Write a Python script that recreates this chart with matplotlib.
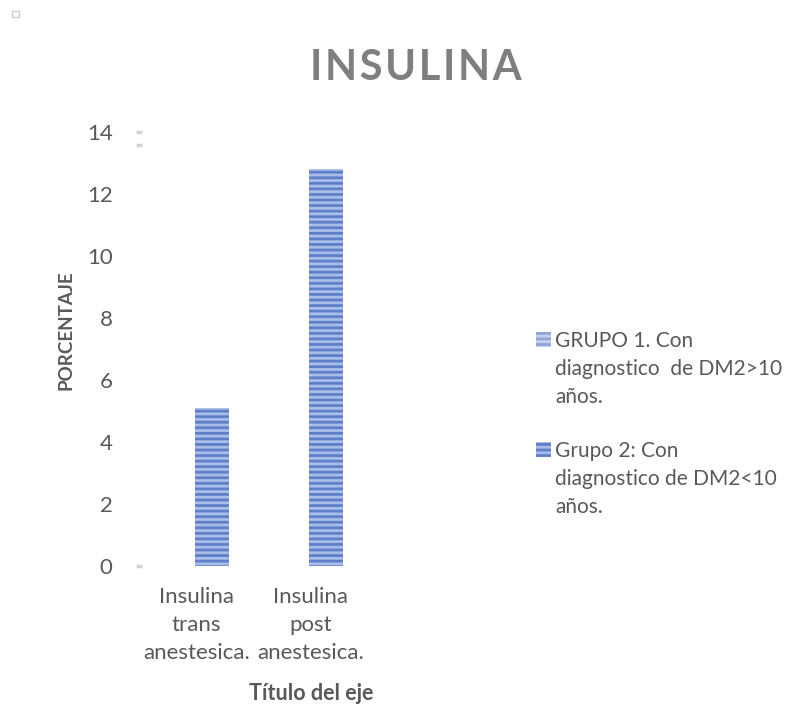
import matplotlib
matplotlib.use("Agg")
import matplotlib.pyplot as plt
from matplotlib.patches import Rectangle

plt.rcParams['font.family'] = ['Lato', 'DejaVu Sans']
plt.rcParams['hatch.linewidth'] = 2.0

# datos
categorias = ['Insulina\ntrans\nanestesica.', 'Insulina\npost\nanestesica.']
grupos = ['GRUPO 1. Con\ndiagnostico  de DM2>10\naños.',
          'Grupo 2: Con\ndiagnostico de DM2<10\naños.']
grupo1 = [0, 0]
grupo2 = [5.1, 12.8]
yticks = [0, 2, 4, 6, 8, 10, 12, 14]

gris = '#595959'
cara = ['#8ea5d9', '#5f80c8']
raya = ['#c3d0ee', '#a9bde8']

fig = plt.figure(figsize=(7.95, 7.09), dpi=100)
W, H = 795, 709
ax = fig.add_axes([139 / W, 1 - 566 / H, 229 / W, 434 / H])

x = range(len(categorias))
ancho = 0.296
desp = 0.135
ax.bar([i - desp for i in x], grupo1, ancho, color=cara[0],
       edgecolor=raya[0], hatch='---', linewidth=0)
ax.bar([i + desp for i in x], grupo2, ancho, color=cara[1],
       edgecolor=raya[1], hatch='---', linewidth=0)

ax.set_xlim(-0.5, 1.5)
ax.set_ylim(0, 14)
ax.set_yticks(yticks)
ax.set_xticks(list(x))
ax.set_xticklabels(categorias, linespacing=1.5)
ax.tick_params(axis='y', length=0, pad=19, labelsize=16, labelcolor=gris)
ax.tick_params(axis='x', length=0, pad=15, labelsize=16, labelcolor=gris)
for s in ax.spines.values():
    s.set_visible(False)

# marcas sueltas del eje vertical
for yy in (0, 13.58, 14):
    ax.plot([-0.53, -0.47], [yy, yy], color='#d4d4d4', lw=2.5,
            clip_on=False, solid_capstyle='butt')

# titulo con letras algo separadas
fig.text(416 / W, 1 - 68 / H, '\u200a'.join('INSULINA'), ha='center',
         va='center', fontsize=30, fontweight='bold', color='#7f7f7f')
fig.text(66 / W, 1 - 330 / H, 'PORCENTAJE', ha='center', va='center',
         rotation=90, fontsize=13.5, fontweight='bold', color=gris)
fig.text(311 / W, 1 - 693 / H, 'Título del eje', ha='center', va='center',
         fontsize=15.5, fontweight='bold', color=gris)

# leyenda
for k, (nombre, top) in enumerate(zip(grupos, (332, 442))):
    fig.patches.append(Rectangle((536 / W, 1 - (top + 15) / H), 15 / W, 15 / H,
                                 transform=fig.transFigure, facecolor=cara[k],
                                 edgecolor=raya[k], hatch='---', linewidth=0))
    fig.text(555 / W, 1 - (top - 1) / H, nombre, ha='left', va='top',
             fontsize=15, color=gris, linespacing=1.5)

# recuadro pequeño de la esquina
fig.patches.append(Rectangle((12 / W, 1 - 17 / H), 7 / W, 6 / H,
                             transform=fig.transFigure, facecolor='white',
                             edgecolor='#d0d0d0', linewidth=1))

fig.savefig('out.png', dpi=100)
